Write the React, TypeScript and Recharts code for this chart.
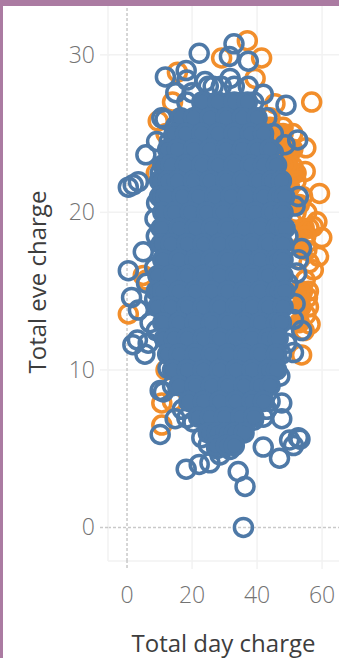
import React from "react";
import { ScatterChart, Scatter, XAxis, YAxis, CartesianGrid, ReferenceLine } from "recharts";

const xTicks = [0, 20, 40, 60];
const yTicks = [0, 10, 20, 30];
const xTitle = "Total day charge";
const yTitle = "Total eve charge";

// [day charge, eve charge]
const orangeRings: number[][] = [
  [37,30.9],[41.4,29.8],[29.1,29.8],[39.4,28.5],[15.5,28.9],[56.8,27],[45.5,26.9],[9.6,25.8],[48,25.4],[55,24.1],[51,25],[54.8,22.6],
  [59.2,21.2],[51,22.9],[55.3,20],[58.4,19.4],[0.4,13.55],[10.7,7.9],[10.7,6.5],[59.9,18.4],[58.9,17.2],[57.3,16.35],[55.8,15],[55.8,14],
  [56.3,12.9],[53.7,10.95],[6,15.7],[57.3,19.1],[55.3,17.6],[54.8,15.7],[44,26],[47,25],[50,24],[46,24],[49,23],[52,22],[54,21],[56,19],
  [55,18.5],[53,17],[56,16.8],[55.5,14.6],[55,13.5],[54.5,12.5],[52,20],[53,15],[12,25],[14,27],[9,22.5],[5,16],[12,10],[14,8]
];
const blueRings: number[][] = [
  [22.2,30.1],[32.9,30.7],[31.5,29.9],[37.3,29.6],[11.8,28.6],[18.2,29],[18.4,28.4],[24,28.3],[31.7,28.5],[26.5,28],[15,27.6],[41.9,27.5],
  [37.3,28],[48.9,26.8],[18.4,27],[10.7,26],[11.7,25.9],[41.9,24.8],[52.5,24.6],[48.6,24.3],[45,23.8],[5.8,23.65],[9.1,24.5],[0.4,21.6],
  [1.9,21.75],[3.5,21.95],[10.2,22.5],[9.1,20.6],[52.7,21],[51.7,20.4],[8.6,19.6],[5,17.5],[0.4,16.3],[1.4,14.6],[3.5,13.8],[6,15.5],
  [7.1,13],[1.8,11.6],[3.2,11.9],[5.5,11],[6.5,11.7],[12.6,10.1],[11.2,8.6],[10.2,8.7],[14.8,6.9],[18.4,6.95],[20.3,6.7],[10.2,5.9],
  [53.7,17.7],[52.7,17],[52.2,16.15],[51.7,14.2],[53.7,12.5],[51.2,13.2],[51.2,11.1],[49.1,11.7],[47,9.6],[47.6,7.9],[47.6,6.9],[41.9,7],
  [38.9,6.8],[52.7,5.7],[50,5.55],[35.8,0],[36.3,2.6],[34.2,3.55],[18.2,3.7],[22.2,4],[25.5,4.1],[46.9,4.4],[41.9,5.1],[51.2,5.2],[53.2,5.6],
  [23,5.7],[31.7,4.95],[27.6,5],[25,5.25],[28.6,4.6],[30,5.4],[33,5.6],[26,6],[29,5.8],[20,27.6],[39,27],[43,26],[15,25.5],[13,24.5],[45,25],
  [9,18.5],[8.5,16.5],[8.5,14.5],[49.5,18.5],[49.5,15.5],[9,12.5],[47.5,11],[14,9],[44,8],[17,7.5],[43,7.5],[25,28],[29,28],[33,28]
];
const orangeCore: number[][] = [
  [44,25.4],[46.5,24.3],[49.5,23.3],[46,22.6],[50,21.6],[53,20.5],[54.5,19],[53.5,17.8],[54,15],[53.5,14],[53,13],[48,25],[51,24],[52,22.5],[48,23]
];
const blueCore: number[][] = [
  [23,27],[28,27],[33,27],[37,27],
  [16.5,26],[20.5,26],[25.5,26],[30.5,26],[35.5,26],[40,26],
  [14.5,25],[18,25],[23,25],[28,25],[33,25],[38,25],[42,25],
  [12.5,24],[15.5,24],[20.5,24],[25.5,24],[30.5,24],[35.5,24],[40,24],[44,24],
  [11,23],[13.5,23],[18,23],[23,23],[28,23],[33,23],[38,23],[42,23],[46,23],
  [10,22],[12.5,22],[15.5,22],[20.5,22],[25.5,22],[30.5,22],[35.5,22],[40.5,22],[44.5,22],[47.5,22],
  [10,21],[12,21],[17,21],[22,21],[27,21],[32,21],[37,21],[42,21],[46.5,21],[48.5,21],
  [11,20],[14.5,20],[19.5,20],[24.5,20],[29.5,20],[34.5,20],[39.5,20],[44.5,20],[48,20],
  [10.5,19],[16,19],[21,19],[26,19],[31,19],[36,19],[41,19],[46,19],[48.6,19],
  [10.5,18],[13.5,18],[18.5,18],[23.5,18],[28.5,18],[33.5,18],[38.5,18],[43.5,18],[48,18],
  [11,17],[16,17],[21,17],[26,17],[31,17],[36,17],[41,17],[46,17],[48,17],
  [9.5,16],[13.5,16],[18.5,16],[23.5,16],[28.5,16],[33.5,16],[38.5,16],[43.5,16],[48,16],
  [9,15],[11,15],[16,15],[21,15],[26,15],[31,15],[36,15],[41,15],[46,15],[48.5,15],
  [9.5,14],[13.5,14],[18.5,14],[23.5,14],[28.5,14],[33.5,14],[38.5,14],[43.5,14],[48,14],
  [11,13],[16,13],[21,13],[26,13],[31,13],[36,13],[41,13],[46,13],[47.5,13],
  [11.5,12],[14.5,12],[18.5,12],[23.5,12],[28.5,12],[33.5,12],[38.5,12],[43.5,12],[46.5,12],
  [12.5,11],[16,11],[21,11],[26,11],[31,11],[36,11],[41,11],[46,11],
  [14,10],[18.5,10],[23.5,10],[28.5,10],[33.5,10],[38.5,10],[43.5,10],[46,10],
  [16,9],[21,9],[26,9],[31,9],[36,9],[41,9],[44,9],
  [19,8],[23.5,8],[28.5,8],[33.5,8],[38.5,8],[42,8],
  [22,7],[25.5,7],[30,7],[35,7],[39,7],
  [25,6],[27.7,6],[30.5,6],[33,6],[36,6],
  [27.5,5.2],[30.5,5.2],[33,5.2]
];

const toPoints = (rows: number[][]) => rows.map(([x, y]) => ({ x, y }));
const GRID = "#f2f2f2";
const ZERO = "#c9c9c9";
const FONT = "'Open Sans', sans-serif";
const TICK = "#737373";
const TITLE = "#3d3d3d";
const ORANGE = "#f28e2b";
const BLUE = "#4e79a7";
const RADIUS = 9;
const RING = 3.5;

const mark = (color: string, filled: boolean) => (p: any) => (
  <circle cx={p.cx} cy={p.cy} r={RADIUS} fill={filled ? color : "none"} stroke={color} strokeWidth={RING} />
);

const XTick = (p: any) => (
  <g>
    <line x1={p.x} x2={p.x} y1={p.y - 9} y2={p.y} stroke={p.payload.value === 0 ? ZERO : GRID} strokeWidth={1.5} strokeDasharray={p.payload.value === 0 ? "3 2" : undefined} />
    <text x={p.x} y={p.y + 34} textAnchor="middle" fontFamily={FONT} fontSize={23} fontWeight={300} fill={TICK}>{p.payload.value}</text>
  </g>
);
const YTick = (p: any) => (
  <g>
    <line x1={p.x} x2={p.x + 10} y1={p.y} y2={p.y} stroke={p.payload.value === 0 ? ZERO : GRID} strokeWidth={1.5} strokeDasharray={p.payload.value === 0 ? "3 2" : undefined} />
    <text x={p.x - 5} y={p.y + 8} textAnchor="end" fontFamily={FONT} fontSize={23} fontWeight={300} fill={TICK}>{p.payload.value}</text>
  </g>
);

export default function App() {
  return (
    <div style={{ position: "absolute", left: 0, top: 0, width: 339, height: 658, overflow: "hidden", background: "#fff" }}>
      <ScatterChart width={339} height={658} margin={{ top: 6, right: 0, bottom: 0, left: 48 }}>
        <CartesianGrid stroke={GRID} strokeWidth={1.5} verticalValues={[20, 40, 60]} horizontalValues={[10, 20, 30]} />
        <XAxis type="number" dataKey="x" domain={[-5.85, 65.2]} ticks={xTicks} height={97} allowDataOverflow interval={0} axisLine={{ stroke: GRID, strokeWidth: 1.5 }} tickLine={false} tick={<XTick />}
          label={{ value: xTitle, position: "insideBottom", offset: 6, fontFamily: FONT, fontSize: 24, fill: TITLE }} />
        <YAxis type="number" dataKey="y" domain={[-2.13, 33.1]} ticks={yTicks} width={60} allowDataOverflow interval={0} axisLine={{ stroke: GRID, strokeWidth: 1.5 }} tickLine={false} tick={<YTick />}
          label={{ value: yTitle, angle: -90, position: "insideLeft", offset: -11, dy: 90, fontFamily: FONT, fontSize: 24, fill: TITLE }} />
        <ReferenceLine x={0} stroke={ZERO} strokeWidth={1.5} strokeDasharray="3 2" />
        <ReferenceLine y={0} stroke={ZERO} strokeWidth={1.5} strokeDasharray="3 2" />
        <Scatter data={toPoints(orangeCore)} shape={mark(ORANGE, true)} isAnimationActive={false} />
        <Scatter data={toPoints(orangeRings)} shape={mark(ORANGE, false)} isAnimationActive={false} />
        <Scatter data={toPoints(blueRings)} shape={mark(BLUE, false)} isAnimationActive={false} />
        <Scatter data={toPoints(blueCore)} shape={mark(BLUE, true)} isAnimationActive={false} />
      </ScatterChart>
      <div style={{ position: "absolute", left: 0, top: 0, width: 339, height: 6, background: "#ab7ba2" }} />
      <div style={{ position: "absolute", left: 0, top: 0, width: 3, height: 658, background: "#ab7ba2" }} />
    </div>
  );
}
